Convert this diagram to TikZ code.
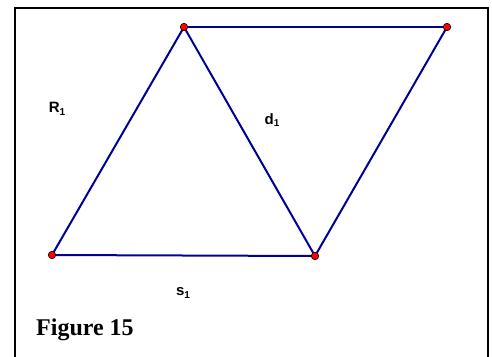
\documentclass[tikz,border=0pt]{standalone}
\usepackage{fontspec}
\setmainfont{Liberation Serif}
\newfontfamily\lblfont{Liberation Sans}
\definecolor{edgeblue}{RGB}{0,0,145}
\definecolor{ptred}{RGB}{255,0,0}
\newcommand{\lsub}[1]{\raisebox{-2.5pt}{\fontsize{10}{12}\selectfont #1}}
\begin{document}
\begin{tikzpicture}[x=1pt,y=-1pt,
  edge/.style={draw=edgeblue,line width=2pt},
  pt/.style={circle,fill=ptred,draw=black,line width=0.6pt,inner sep=0pt,minimum size=7.5pt},
  lbl/.style={font=\lblfont\bfseries\fontsize{15}{17}\selectfont,inner sep=0pt},
  figcaption/.style={font=\bfseries\fontsize{24}{28}\selectfont,inner sep=0pt,anchor=base west}]
\useasboundingbox (0,0) rectangle (492,356);
\fill[white] (0,0) rectangle (492,356);
\draw[line width=2pt] (15,370) -- (15,8) -- (487.5,8) -- (487.5,370);
\coordinate (A) at (184,27);
\coordinate (B) at (447,27);
\coordinate (C) at (52,255);
\coordinate (D) at (315,256);
\draw[edge] (A) -- (B);
\draw[edge] (A) -- (C);
\draw[edge] (A) -- (D);
\draw[edge] (C) -- (D);
\draw[edge] (B) -- (D);
\node[pt] (pA) at (A) {};
\node[pt] (pB) at (B) {};
\node[pt] (pC) at (C) {};
\node[pt] (pD) at (D) {};
\node[lbl] (r1) at (57,109) {R\lsub{1}};
\node[lbl] (d1) at (272,120) {d\lsub{1}};
\node[lbl] (s1) at (183,293) {s\lsub{1}};
\node[figcaption] (fig) at (36,335) {Figure 15};
\end{tikzpicture}
\end{document}
